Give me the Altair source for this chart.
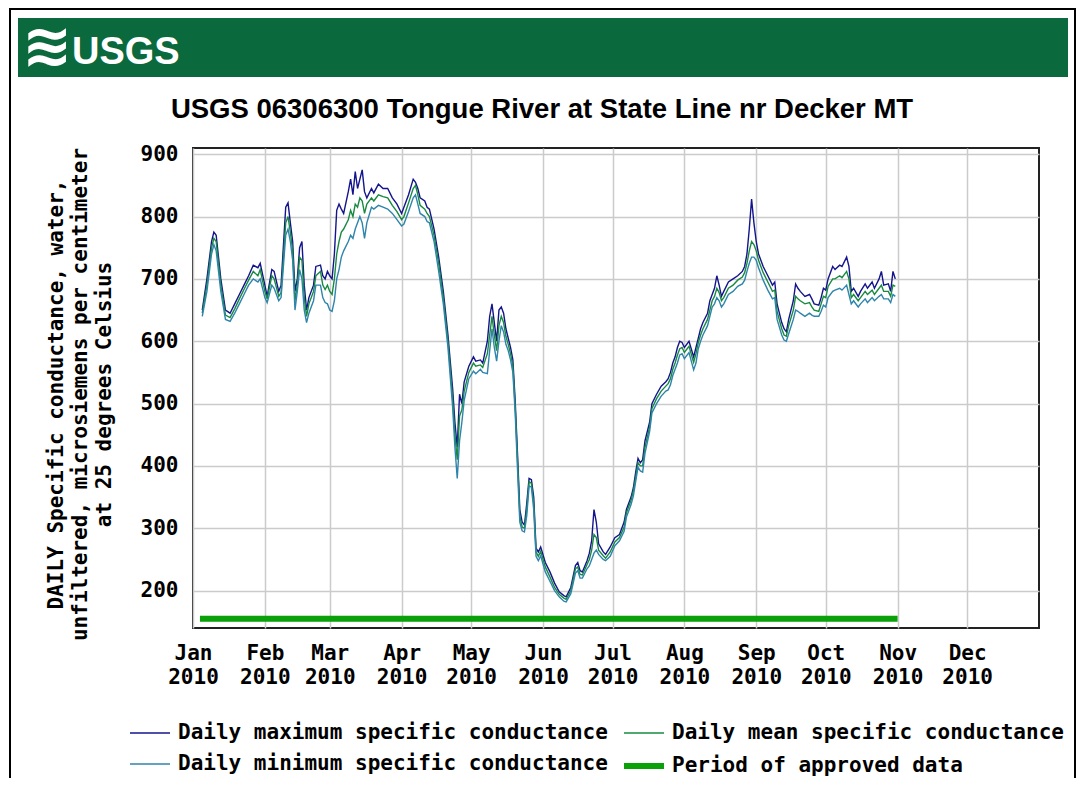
import altair as alt
import pandas as pd

# ---------------- data ----------------
# legend order (column-major, two columns): max, min | mean, approved
series_names = [
    "Daily maximum specific conductance",
    "Daily minimum specific conductance",
    "Daily mean specific conductance",
    "Period of approved data",
]
series_colors = ["#14148c", "#2f84ac", "#178a40", "#0aa00a"]
series_widths = [1.4, 1.4, 1.4, 6]

jan = [5, 7, 9, 10, 11, 13, 15, 17, 19, 21, 23, 25, 27, 29, 30]
feb = [1, 2, 4, 5, 7, 8, 10, 11, 12, 13, 14, 15, 16, 17, 18, 19, 20, 22, 23, 25, 26, 27, 28]
mar = [1, 2, 3, 4, 5, 6, 7, 9, 10, 11, 12, 13, 14, 15, 16, 17, 19, 20, 22, 24, 26, 28, 30]
apr = [1, 2, 4, 6, 7, 8, 9, 11, 12, 13, 15, 17, 19, 21, 23, 24, 25, 26, 27, 28, 30]
may = [2, 3, 5, 6, 8, 9, 10, 11, 12, 13, 14, 15, 16, 17, 18, 19, 20, 21, 22, 23, 24, 25, 26, 27, 28, 29, 30, 31]
jun = [2, 4, 6, 8, 10, 11, 13, 15, 16, 17, 18, 20, 21, 22, 23, 24, 25, 27, 28, 30]
jul = [2, 4, 6, 7, 9, 10, 11, 12, 13, 14, 15, 17, 18, 20, 22, 24, 25, 26, 27, 28, 29, 30, 31]
aug = [1, 3, 5, 6, 7, 8, 9, 11, 12, 13, 14, 15, 16, 17, 18, 20, 22, 24, 26, 27, 28, 29, 30, 31]
sep = [1, 2, 4, 6, 8, 9, 10, 12, 13, 14, 15, 17, 18, 19, 20, 22, 24, 25, 26, 28, 29, 30]
oct_ = [1, 2, 4, 5, 7, 8, 10, 11, 12, 13, 15, 16, 18, 19, 21, 22, 24, 25, 26, 28, 29, 30, 31]

daily_max = [
    650, 700, 760, 775, 770, 700, 650, 645, 660, 675, 690, 705, 722, 718, 725,
    690, 672, 715, 712, 680, 690, 815, 822, 790, 760, 680, 700, 750, 760, 690, 650, 670, 690, 720, 722, 705, 700, 712,
    705, 700, 740, 810, 820, 812, 805, 840, 860, 835, 872, 845, 860, 875, 840, 830, 845, 838, 852, 845, 845, 830, 820,
    805, 815, 835, 860, 855, 845, 830, 825, 815, 812, 780, 735, 680, 610, 525, 470, 430, 515, 500, 535, 560,
    575, 568, 570, 565, 600, 640, 660, 630, 600, 650, 655, 645, 620, 605, 590, 570, 505, 420, 330, 310, 305, 340, 380, 378, 350, 268, 262, 270,
    245, 230, 212, 198, 192, 190, 205, 240, 245, 232, 230, 248, 260, 280, 330, 310, 275, 262, 258, 270,
    285, 290, 310, 330, 350, 365, 390, 412, 405, 410, 440, 470, 500, 515, 528, 535, 540, 550, 565, 575, 590, 600, 598,
    590, 600, 575, 590, 605, 620, 630, 645, 665, 675, 685, 705, 690, 672, 680, 695, 700, 705, 712, 720, 740, 780, 828, 790,
    760, 740, 720, 705, 690, 695, 660, 630, 620, 615, 635, 665, 692, 685, 680, 672, 675, 668, 660, 658, 670, 685,
    682, 700, 720, 715, 722, 720, 735, 720, 680, 685, 672, 680, 692, 685, 695, 685, 700, 712, 690, 692, 680, 712, 700,
]
daily_mean = [
    645, 690, 750, 765, 760, 690, 642, 638, 652, 668, 683, 698, 712, 705, 715,
    680, 668, 705, 700, 672, 678, 790, 800, 775, 745, 665, 690, 735, 730, 670, 640, 660, 680, 705, 712, 690, 683, 690,
    680, 675, 700, 740, 760, 775, 780, 795, 810, 800, 820, 815, 830, 825, 805, 820, 830, 825, 835, 832, 830, 818, 808,
    795, 800, 822, 845, 850, 835, 818, 812, 805, 800, 770, 725, 670, 600, 510, 450, 410, 480, 490, 520, 550,
    565, 560, 562, 558, 580, 610, 640, 610, 585, 625, 640, 630, 608, 595, 580, 560, 495, 410, 320, 302, 300, 330, 375, 372, 340, 262, 255, 263,
    238, 222, 205, 194, 188, 186, 200, 235, 238, 226, 225, 242, 250, 265, 290, 285, 265, 256, 252, 262,
    278, 285, 302, 325, 345, 360, 382, 405, 400, 400, 430, 462, 492, 508, 520, 528, 532, 540, 555, 565, 578, 588, 590,
    582, 592, 566, 580, 598, 610, 620, 635, 650, 665, 672, 685, 678, 665, 670, 685, 690, 698, 703, 710, 725, 745, 760, 755,
    745, 730, 710, 695, 680, 682, 648, 620, 610, 608, 625, 650, 672, 668, 665, 660, 662, 655, 650, 648, 660, 672,
    670, 688, 700, 700, 705, 702, 712, 700, 670, 675, 665, 670, 680, 675, 682, 675, 685, 690, 680, 680, 672, 690, 688,
]
daily_min = [
    640, 680, 740, 755, 745, 680, 635, 632, 645, 660, 675, 690, 700, 695, 700,
    670, 662, 690, 685, 665, 670, 770, 780, 760, 730, 650, 680, 715, 700, 650, 630, 645, 665, 690, 690, 670, 662, 660,
    650, 648, 665, 700, 715, 735, 745, 760, 770, 765, 780, 790, 800, 790, 765, 790, 815, 812, 818, 815, 812, 805, 795,
    785, 788, 808, 830, 835, 820, 805, 800, 792, 790, 760, 712, 660, 590, 495, 430, 380, 440, 470, 505, 540,
    552, 548, 555, 550, 548, 585, 620, 590, 568, 600, 625, 615, 595, 585, 570, 550, 485, 395, 310, 296, 294, 320, 368, 366, 330, 255, 248, 256,
    230, 215, 200, 190, 183, 182, 195, 228, 232, 220, 220, 235, 240, 250, 260, 265, 258, 250, 248, 255,
    272, 280, 295, 318, 338, 352, 375, 398, 392, 390, 420, 455, 485, 500, 512, 520, 522, 530, 545, 555, 565, 578, 580,
    572, 582, 554, 565, 588, 600, 610, 625, 640, 655, 660, 670, 665, 655, 660, 675, 680, 688, 692, 698, 712, 725, 735, 735,
    730, 718, 698, 682, 668, 670, 635, 610, 602, 600, 612, 635, 650, 648, 645, 640, 645, 642, 640, 640, 648, 658,
    655, 670, 680, 682, 685, 682, 690, 675, 660, 665, 655, 660, 668, 662, 670, 665, 672, 675, 668, 668, 662, 675, 672,
]

approved_dates = ["2010-01-04", "2010-11-01"]
approved_level = 155

y_ticks = [200, 300, 400, 500, 600, 700, 800, 900]
title_text = "USGS 06306300 Tongue River at State Line nr Decker MT"
y_title = [
    "DAILY Specific conductance, water,",
    "unfiltered, microsiemens per centimeter",
    "at 25 degrees Celsius",
]

# ---------------- table ----------------
dates = []
for month, days in enumerate([jan, feb, mar, apr, may, jun, jul, aug, sep, oct_], start=1):
    dates += [f"2010-{month:02d}-{d:02d}" for d in days]

rows = []
for name, vals in [(series_names[0], daily_max), (series_names[2], daily_mean), (series_names[1], daily_min)]:
    for d, v in zip(dates, vals):
        rows.append({"date": d, "value": v, "series": name})
for d in approved_dates:
    rows.append({"date": d, "value": approved_level, "series": series_names[3]})
df = pd.DataFrame(rows)

MONO = "DejaVu Sans Mono"
SANS = "Liberation Sans"
PX = 193  # plot-left in page px (for decoration offsets)
PY = 148

legend_spec = alt.Legend(
    title=None, orient="none", legendX=-66, legendY=564, columns=2,
    symbolType="stroke", symbolSize=1600, labelFont=MONO, labelFontSize=21,
    labelFontWeight="bold", labelColor="black", labelOffset=5, labelLimit=700,
    columnPadding=4, rowPadding=-1, padding=0,
)

lines = alt.Chart(df).mark_line(strokeCap="butt").encode(
    x=alt.X(
        "date:T",
        scale=alt.Scale(type="utc", domain=[alt.DateTime(year=2010, month=1, date=1, utc=True),
                                             alt.DateTime(year=2011, month=1, date=1, utc=True)]),
        axis=alt.Axis(
            values=[alt.DateTime(year=2010, month=m, date=1, utc=True) for m in range(1, 13)],
            labelExpr="[utcFormat(datum.value, '%b'), utcFormat(datum.value, '%Y')]",
            labelFlush=False, labelOverlap=False, ticks=False, domain=False,
            grid=True, gridColor="#cbcbcb", gridWidth=1.5,
            labelFont=MONO, labelFontSize=21, labelFontWeight="bold", labelColor="black",
            labelPadding=14, labelLineHeight=24, labelBaseline="top", title=None,
        ),
    ),
    y=alt.Y(
        "value:Q",
        scale=alt.Scale(domain=[140, 910], nice=False, zero=False),
        axis=alt.Axis(
            values=y_ticks, ticks=False, domain=False, grid=True, gridColor="#cbcbcb", gridWidth=1.5,
            labelFont=MONO, labelFontSize=21, labelFontWeight="bold", labelColor="black",
            labelPadding=15,
            title=y_title, titleFont=MONO, titleFontSize=21, titleFontWeight="bold", titleColor="black",
            titleLineHeight=24, titleX=-137, titleY=246, titleAngle=-90, titleAlign="center",
            titleBaseline="middle",
        ),
    ),
    color=alt.Color("series:N", scale=alt.Scale(domain=series_names, range=series_colors), legend=legend_spec),
    strokeWidth=alt.StrokeWidth("series:N", scale=alt.Scale(type="ordinal", domain=series_names, range=series_widths),
                                legend=legend_spec),
)

one = pd.DataFrame({"k": [0]})
border = alt.Chart(one).mark_rect(filled=False, stroke="black", strokeWidth=2).encode(
    x=alt.value(10 - PX), x2=alt.value(1075 - PX), y=alt.value(9 - PY), y2=alt.value(800 - PY))
header = alt.Chart(one).mark_rect(fill="#0a6a3d").encode(
    x=alt.value(18 - PX), x2=alt.value(1068 - PX), y=alt.value(18 - PY), y2=alt.value(77 - PY))
logo_wave = alt.Chart(one).mark_text(text="≋", font="DejaVu Sans", fontSize=60, fontWeight="bold",
                                     color="white", align="left", baseline="middle").encode(
    x=alt.value(22 - PX), y=alt.value(48 - PY))
logo_text = alt.Chart(one).mark_text(text="USGS", font=SANS, fontSize=38, fontWeight="bold",
                                     color="white", align="left", baseline="alphabetic").encode(
    x=alt.value(72 - PX), y=alt.value(64 - PY))
title = alt.Chart(one).mark_text(text=title_text, font=SANS, fontSize=27.5, fontWeight="bold",
                                 color="black", align="center", baseline="alphabetic").encode(
    x=alt.value(542 - PX), y=alt.value(118 - PY))

chart = alt.layer(border, header, logo_wave, logo_text, title, lines).properties(
    width=846, height=480,
    autosize=alt.AutoSizeParams(type="none"),
    padding={"left": 185, "top": 140, "right": 39, "bottom": 150},
).configure_view(stroke="#222222", strokeWidth=2)

chart.save("out.html", embed_options={"renderer": "svg", "actions": False})
